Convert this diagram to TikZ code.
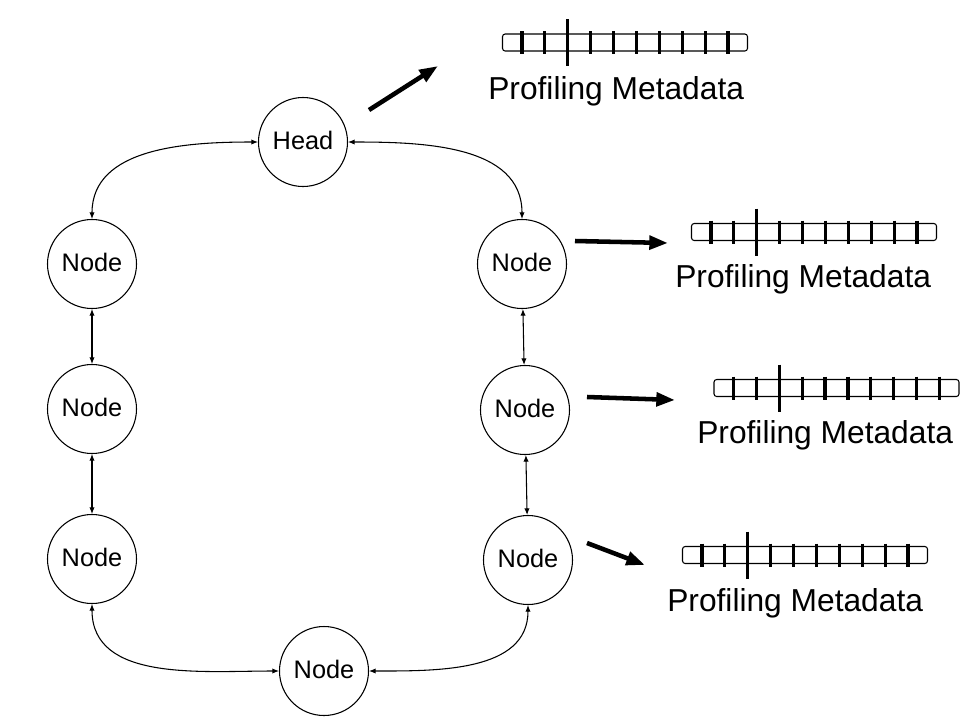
\documentclass[tikz,border=0pt]{standalone}
\usepackage{fontspec}
\setmainfont{Liberation Sans}
\usepackage{tikz}
\usetikzlibrary{arrows.meta}
\usetikzlibrary{calc}

\begin{document}
\begin{tikzpicture}[x=0.75pt, y=-0.75pt]

    \useasboundingbox (0,0) rectangle (976,726);

    % ring of nodes
    \begin{scope}[every node/.style={circle, draw, line width=0.8pt, minimum size=66.75pt, inner sep=0pt,
                                     text depth=0.25em, font=\fontsize{19}{21}\selectfont}]
        \node (head) at (303,142) {Head};
        \node (l1) at (92,264) {Node};
        \node (l2) at (92,409) {Node};
        \node (l3) at (92,559) {Node};
        \node (r1) at (522,264) {Node};
        \node (r2) at (525,410) {Node};
        \node (r3) at (528,560) {Node};
        \node (bot) at (324,671) {Node};
    \end{scope}

    % links
    \begin{scope}[every edge/.style={draw, line width=0.8pt}, >={Latex[length=5pt, width=4pt]}]
        \path[<->] (head) edge[out=180, in=90] (l1);
        \path[<->] (head) edge[out=0, in=90] (r1);
        \path[<->] (l1) edge (l2);
        \path[<->] (l2) edge (l3);
        \path[<->] (r1) edge (r2);
        \path[<->] (r2) edge (r3);
        \path[<->] (l3) edge[out=270, in=180] (bot);
        \path[<->] (r3) edge[out=270, in=0] (bot);
    \end{scope}

    % profiling metadata
    \begin{scope}[every node/.style={draw, line width=0.8pt, rounded corners=2pt, inner sep=0pt,
                                     minimum width=183.75pt, minimum height=12.75pt}]
        \node (m1) at (625,42.5) {};
        \node (m2) at (814,232) {};
        \node (m3) at (836.5,388) {};
        \node (m4) at (805,555) {};
    \end{scope}

    \foreach \m in {m1,m2,m3,m4} {
        \foreach \k in {0,...,9}
            \draw[line width=2.4pt] ($(\m.west)+(20+22.9*\k,-11.5)$) -- ++(0,23);
        \draw[line width=2.4pt] ($(\m.west)+(65.8,-23.5)$) -- ++(0,47);
    }

    \begin{scope}[every node/.style={anchor=base west, inner sep=0pt, font=\fontsize{23.8}{28}\selectfont}]
        \node (t1) at (488,99) {Profiling Metadata};
        \node (t2) at (675,287) {Profiling Metadata};
        \node (t3) at (697,443) {Profiling Metadata};
        \node (t4) at (667,611) {Profiling Metadata};
    \end{scope}

    % pointers to the metadata
    \coordinate (a1) at (369,110);
    \coordinate (b1) at (438,66);
    \coordinate (a2) at (575,241);
    \coordinate (b2) at (668,243);
    \coordinate (a3) at (587,397);
    \coordinate (b3) at (675,400);
    \coordinate (a4) at (587,543);
    \coordinate (b4) at (645,565);
    \begin{scope}[every edge/.style={draw, line width=3.4pt}]
        \path[-{Triangle[length=14pt, width=10pt]}] (a1) edge (b1);
        \path[-{Triangle[length=14pt, width=10pt]}] (a2) edge (b2);
        \path[-{Triangle[length=14pt, width=10pt]}] (a3) edge (b3);
        \path[-{Triangle[length=14pt, width=10pt]}] (a4) edge (b4);
    \end{scope}

\end{tikzpicture}
\end{document}
